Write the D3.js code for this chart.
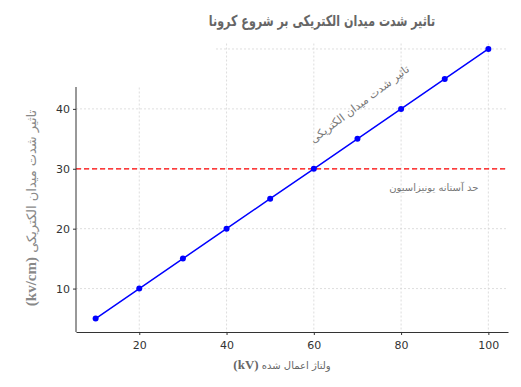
<!DOCTYPE html>
<html>
<head>
<meta charset="utf-8">
<script src="https://cdn.jsdelivr.net/npm/d3@7"></script>
<style>
  body { margin: 0; background: #fff; }
</style>
</head>
<body>
<div id="chart"></div>
<script>
// Data
const voltage = [10, 20, 30, 40, 50, 60, 70, 80, 90, 100];
const fieldStrength = [5, 10, 15, 20, 25, 30, 35, 40, 45, 50];
const xTicks = [20, 40, 60, 80, 100];
const yTicks = [10, 20, 30, 40];
const threshold = 30;

const titleText = 'تاثیر شدت میدان الکتریکی بر شروع کرونا';
const xLabelText = 'ولتاژ اعمال شده ';
const xLabelUnit = '(kV)';
const yLabelText = 'تاثیر شدت میدان الکتریکی ';
const yLabelUnit = '(kv/cm)';
const lineNote = 'تاثیر شدت میدان الکتریکی';
const thresholdNote = 'حد آستانه یونیزاسیون';

const svgWidth = 521, svgHeight = 387;
const margin = { top: 35.5, right: 13, bottom: 55, left: 76 };
const chartWidth = svgWidth - margin.left - margin.right;
const chartHeight = svgHeight - margin.top - margin.bottom;

const svg = d3.select('#chart')
    .append('svg')
    .attr('width', svgWidth)
    .attr('height', svgHeight);

const chart = svg.append('g')
    .attr('transform', `translate(${margin.left}, ${margin.top})`);

// Scales (5% padding like matplotlib)
const xScale = d3.scaleLinear().domain([5.5, 104.5]).range([0, chartWidth]);
const yScale = d3.scaleLinear().domain([2.75, 52.25]).range([chartHeight, 0]);

// Grid
chart.append('g')
    .selectAll('line')
    .data(xTicks)
    .enter()
    .append('line')
    .attr('x1', d => xScale(d)).attr('x2', d => xScale(d))
    .attr('y1', 0).attr('y2', chartHeight)
    .attr('stroke', '#d6d6d6')
    .attr('stroke-width', 0.8)
    .attr('stroke-dasharray', '2,2');

chart.append('g')
    .selectAll('line')
    .data(yTicks.concat([50]))
    .enter()
    .append('line')
    .attr('x1', 0).attr('x2', chartWidth)
    .attr('y1', d => yScale(d)).attr('y2', d => yScale(d))
    .attr('stroke', '#d6d6d6')
    .attr('stroke-width', 0.8)
    .attr('stroke-dasharray', '2,2');

// Threshold line
chart.append('line')
    .attr('x1', 0).attr('x2', chartWidth)
    .attr('y1', yScale(threshold)).attr('y2', yScale(threshold))
    .attr('stroke', '#ff0000')
    .attr('stroke-width', 1.3)
    .attr('stroke-dasharray', '5,3');

// Line + points
const line = d3.line()
    .x((d, i) => xScale(voltage[i]))
    .y(d => yScale(d));

chart.append('path')
    .datum(fieldStrength)
    .attr('d', line)
    .attr('fill', 'none')
    .attr('stroke', '#0000ff')
    .attr('stroke-width', 1.5);

chart.selectAll('.dot')
    .data(fieldStrength)
    .enter()
    .append('circle')
    .attr('class', 'dot')
    .attr('cx', (d, i) => xScale(voltage[i]))
    .attr('cy', d => yScale(d))
    .attr('r', 3)
    .attr('fill', '#0000ff');

// White patch covering the top-left corner (as in the picture)
svg.append('rect')
    .attr('x', 0).attr('y', 0)
    .attr('width', 216).attr('height', 87)
    .attr('fill', '#fff');
svg.append('rect')
    .attr('x', 0).attr('y', 0)
    .attr('width', svgWidth).attr('height', 42)
    .attr('fill', '#fff');

// Axes
const xAxis = d3.axisBottom(xScale).tickValues(xTicks).tickSize(3).tickSizeOuter(0);
const yAxis = d3.axisLeft(yScale).tickValues(yTicks).tickSize(3).tickSizeOuter(0);

const gx = chart.append('g')
    .attr('transform', `translate(0, ${chartHeight})`)
    .call(xAxis);
const gy = chart.append('g')
    .call(yAxis);

gy.select('.domain').attr('d', `M0,${chartHeight}V${yScale(40) - 22}`);

[gx, gy].forEach(g => {
    g.select('.domain').attr('stroke', '#333').attr('stroke-width', 1);
    g.selectAll('.tick line').attr('stroke', '#333');
    g.selectAll('.tick text')
        .attr('fill', '#333')
        .style('font-family', 'DejaVu Sans, sans-serif')
        .style('font-size', '11px');
});
gx.selectAll('.tick text').attr('dy', '1em');

// Title (horizontally condensed to match the narrower face in the picture)
svg.append('text')
    .attr('transform', 'translate(322, 26) scale(0.74, 1)')
    .attr('text-anchor', 'middle')
    .attr('direction', 'rtl')
    .style('font-family', 'DejaVu Sans, sans-serif')
    .style('font-size', '15px')
    .style('font-weight', 'bold')
    .style('fill', '#666')
    .text(titleText);

// Axis labels
const xLabel = svg.append('text')
    .attr('x', 282)
    .attr('y', 369)
    .attr('text-anchor', 'middle')
    .attr('direction', 'rtl')
    .style('font-family', 'DejaVu Sans, sans-serif')
    .style('font-size', '10px')
    .style('fill', '#666');
xLabel.append('tspan').text(xLabelText);
xLabel.append('tspan')
    .style('font-family', 'Liberation Serif, serif')
    .style('font-weight', 'bold')
    .style('font-size', '13px')
    .text(xLabelUnit);

const yLabel = svg.append('text')
    .attr('transform', 'translate(36, 208) rotate(-90)')
    .attr('text-anchor', 'middle')
    .attr('direction', 'rtl')
    .style('font-family', 'DejaVu Sans, sans-serif')
    .style('font-size', '13px')
    .style('fill', '#888');
yLabel.append('tspan').text(yLabelText);
yLabel.append('tspan')
    .style('font-family', 'Liberation Serif, serif')
    .style('font-weight', 'bold')
    .style('font-size', '15px')
    .text(yLabelUnit);

// Annotations
chart.append('text')
    .attr('transform', `translate(${xScale(71)}, ${yScale(40.3)}) rotate(-37)`)
    .attr('text-anchor', 'middle')
    .attr('direction', 'rtl')
    .style('font-family', 'DejaVu Sans, sans-serif')
    .style('font-size', '11px')
    .style('fill', '#777')
    .text(lineNote);

chart.append('text')
    .attr('x', xScale(87.5))
    .attr('y', yScale(26.3))
    .attr('text-anchor', 'middle')
    .attr('direction', 'rtl')
    .style('font-family', 'DejaVu Sans, sans-serif')
    .style('font-size', '10px')
    .style('fill', '#777')
    .text(thresholdNote);
</script>
</body>
</html>
